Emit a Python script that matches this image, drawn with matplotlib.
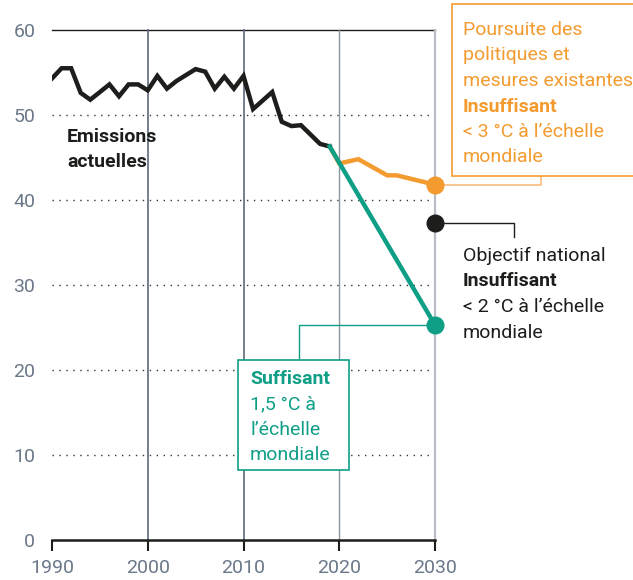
import matplotlib.pyplot as plt
from matplotlib.patches import Rectangle

# emissions
years_hist = list(range(1990, 2020))
emis_hist = [54.3, 55.5, 55.5, 52.6, 51.8, 52.7, 53.6, 52.2, 53.6, 53.6,
             52.9, 54.6, 53.1, 54.0, 54.7, 55.4, 55.1, 53.1, 54.5, 53.1,
             54.6, 50.7, 51.7, 52.7, 49.2, 48.7, 48.8, 47.7, 46.6, 46.3]

years_pol = [2019, 2020, 2022, 2025, 2026, 2030]
emis_pol = [46.3, 44.3, 44.8, 42.9, 42.9, 41.8]

years_ok = [2019, 2030]
emis_ok = [46.3, 25.3]

target_year = 2030
target_val = 37.3

yticks = [0, 10, 20, 30, 40, 50, 60]
xticks = [1990, 2000, 2010, 2020, 2030]

BLACK = "#1d1d1b"
ORANGE = "#f39b2f"
ORANGE_L = "#f7bb7a"
GREEN = "#0f9e86"
SLATE = "#6b7889"

W, H = 633, 580
plt.rcParams["font.family"] = ["Roboto", "DejaVu Sans"]
FS = 14

fig = plt.figure(figsize=(W / 100, H / 100), dpi=100)
ax = fig.add_axes([52 / W, 40 / H, 383 / W, 510 / H])
ax.set_xlim(1990, 2030)
ax.set_ylim(0, 60)


def fx(px):
    return px / W


def fy(py):
    return 1 - py / H


def X(px):
    return 1990 + (px - 52) / 383 * 40


def Y(py):
    return (540 - py) / 510 * 60


# grille
for v in yticks[1:-1]:
    ax.plot([1990, 2030], [v, v], color="#333333", lw=1, ls=(0, (1, 4)), zorder=1)
ax.plot([1990, 2030], [60, 60], color=BLACK, lw=1, zorder=1, clip_on=False)
vcols = {2000: "#5d6b7c", 2010: "#5d6b7c", 2020: "#8c96a2", 2030: "#b7bec7"}
vlw = {2000: 1.2, 2010: 1.2, 2020: 1.0, 2030: 1.6}
for x in xticks[1:]:
    ax.plot([x, x], [0, 60], color=vcols[x], lw=vlw[x], zorder=1, clip_on=False)

# series
ax.plot(years_pol, emis_pol, color=ORANGE, lw=3.2, zorder=3, solid_joinstyle="miter")
ax.plot(years_hist, emis_hist, color=BLACK, lw=3.2, zorder=4, solid_joinstyle="miter")
ax.plot(years_ok, emis_ok, color=GREEN, lw=3.2, zorder=4)

# leaders
ax.plot([2030, X(541), X(541)], [emis_pol[-1], emis_pol[-1], Y(176)],
        color=ORANGE_L, lw=1.2, zorder=2, clip_on=False)
ax.plot([2030, X(514), X(514)], [target_val, target_val, Y(237)],
        color=BLACK, lw=1, zorder=2, clip_on=False)
ax.plot([2030, X(299), X(299)], [emis_ok[-1], emis_ok[-1], Y(360)],
        color=GREEN, lw=1, zorder=2, clip_on=False)

ax.plot(years_pol[-1], emis_pol[-1], "o", ms=12, color=ORANGE, zorder=5, clip_on=False)
ax.plot(target_year, target_val, "o", ms=12, color=BLACK, zorder=5, clip_on=False)
ax.plot(years_ok[-1], emis_ok[-1], "o", ms=12, color=GREEN, zorder=5, clip_on=False)

# axes
for s in ["top", "right", "left"]:
    ax.spines[s].set_visible(False)
ax.spines["bottom"].set_linewidth(1.8)
ax.spines["bottom"].set_color(BLACK)
ax.spines["bottom"].set_zorder(6)
ax.set_xticks(xticks)
ax.set_xticklabels([str(x) for x in xticks])
ax.tick_params(axis="x", length=8, width=1.5, color=BLACK, labelcolor=SLATE,
               labelsize=FS, pad=6)
ax.set_yticks(yticks)
ax.set_yticklabels([str(v) for v in yticks])
ax.tick_params(axis="y", length=0, labelcolor=SLATE, labelsize=FS, pad=12)

# boites
fig.patches.append(Rectangle((fx(452), fy(176)), fx(645) - fx(452), fy(4) - fy(176),
                             transform=fig.transFigure, fill=True, facecolor="white",
                             edgecolor=ORANGE, lw=1.2, zorder=3))
fig.patches.append(Rectangle((fx(238), fy(470)), fx(349) - fx(238), fy(360) - fy(470),
                             transform=fig.transFigure, facecolor="white",
                             edgecolor=GREEN, lw=1.2, zorder=3))


def lines(x, y0, items, color, step=25.5):
    for i, (txt, bold) in enumerate(items):
        fig.text(fx(x), fy(y0 + i * step), txt, color=color, fontsize=FS,
                 fontweight="bold" if bold else "normal", va="baseline",
                 ha="left", zorder=10)


lines(463, 35, [("Poursuite des", False), ("politiques et", False),
                ("mesures existantes", False), ("Insuffisant", True),
                ("< 3 °C à l’échelle", False), ("mondiale", False)], ORANGE)
lines(463, 261, [("Objectif national", False), ("Insuffisant", True),
                 ("< 2 °C à l’échelle", False), ("mondiale", False)], BLACK)
lines(250, 384, [("Suffisant", True), ("1,5 °C à", False),
                 ("l’échelle", False), ("mondiale", False)], GREEN)
lines(67, 142, [("Emissions", True), ("actuelles", True)], BLACK, step=25)

fig.savefig("out.png", dpi=100)
